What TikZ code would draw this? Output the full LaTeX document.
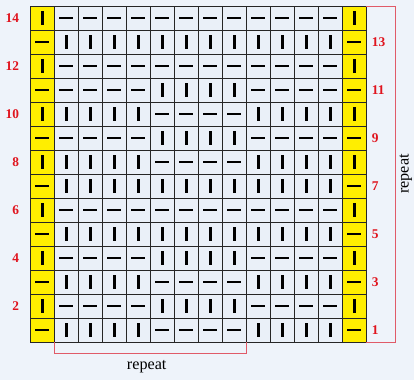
\documentclass[tikz,border=0pt]{standalone}
\usepackage{fontspec}
\setmainfont{Liberation Serif}
\usepackage{xcolor}
\usetikzlibrary{positioning, calc}

\definecolor{bgblue}{HTML}{EEF3FA}
\definecolor{cellblue}{HTML}{EAF0F8}
\definecolor{ylw}{HTML}{FFEE00}
\definecolor{numred}{HTML}{E0141E}
\definecolor{brkred}{HTML}{E05A68}

%% stitch symbols
\newcommand{\symv}{\rule{1.9pt}{9.4pt}}
\newcommand{\symh}{\rule{10.1pt}{1.9pt}}

\begin{document}
\begin{tikzpicture}[
  x=0.6cm, y=0.6cm,
  every node/.style={font=\small},
  cell/.style={rectangle, draw=black!85, line width=0.7pt, fill=cellblue,
               minimum size=0.6cm, inner sep=0pt, outer sep=0pt},
  ycell/.style={cell, fill=ylw},
  rnum/.style={text=numred, inner sep=0pt,
               font=\fontsize{9.5}{10}\selectfont\bfseries},
  brk/.style={brkred, line width=0.6pt},
  rlbl/.style={font=\fontsize{11.5}{12}\selectfont}
]
\useasboundingbox[fill=bgblue] (-1.2625,-1.583) rectangle (15.9875,14.25);

%% chart body, row 1 at the bottom
\foreach \r/\row in {
  1/{v,v,v,v,h,h,h,h,v,v,v,v},
  2/{h,h,h,h,v,v,v,v,h,h,h,h},
  3/{v,v,v,v,h,h,h,h,v,v,v,v},
  4/{h,h,h,h,v,v,v,v,h,h,h,h},
  5/{v,v,v,v,v,v,v,v,v,v,v,v},
  6/{h,h,h,h,h,h,h,h,h,h,h,h},
  7/{v,v,v,v,v,v,v,v,v,v,v,v},
  8/{v,v,v,v,h,h,h,h,v,v,v,v},
  9/{h,h,h,h,v,v,v,v,h,h,h,h},
  10/{v,v,v,v,h,h,h,h,v,v,v,v},
  11/{h,h,h,h,v,v,v,v,h,h,h,h},
  12/{h,h,h,h,h,h,h,h,h,h,h,h},
  13/{v,v,v,v,v,v,v,v,v,v,v,v},
  14/{h,h,h,h,h,h,h,h,h,h,h,h}}
  \foreach \s [count=\c] in \row
    \node[cell] (c\r-\c) at (\c+.5,\r-.5) {\csname sym\s\endcsname};

%% edge stitches
\foreach \r in {1,...,14}{
  \ifodd\r \def\s{h}\else\def\s{v}\fi
  \node[ycell] (c\r-0)  at (.5,\r-.5)   {\csname sym\s\endcsname};
  \node[ycell] (c\r-13) at (13.5,\r-.5) {\csname sym\s\endcsname};
}

%% row numbers
\foreach \r in {2,4,...,14}
  \node[rnum, left=0.276cm of c\r-0] (n\r) {\r};
\foreach \r in {1,3,...,13}
  \node[rnum, right=0.135cm of c\r-13] (n\r) {\r};

%% repeat brackets
\draw[brk] (c1-1.south west) -- ++(0,-0.49) -| (c1-8.south east);
\draw[brk] (c14-13.north east) -- ++(1.2,0) |- (c1-13.south east);
\node[rlbl] (rep1) at (4.85,-1.03) {repeat};
\node[rlbl, rotate=90] (rep2) at (15.65,7) {repeat};
\end{tikzpicture}
\end{document}
